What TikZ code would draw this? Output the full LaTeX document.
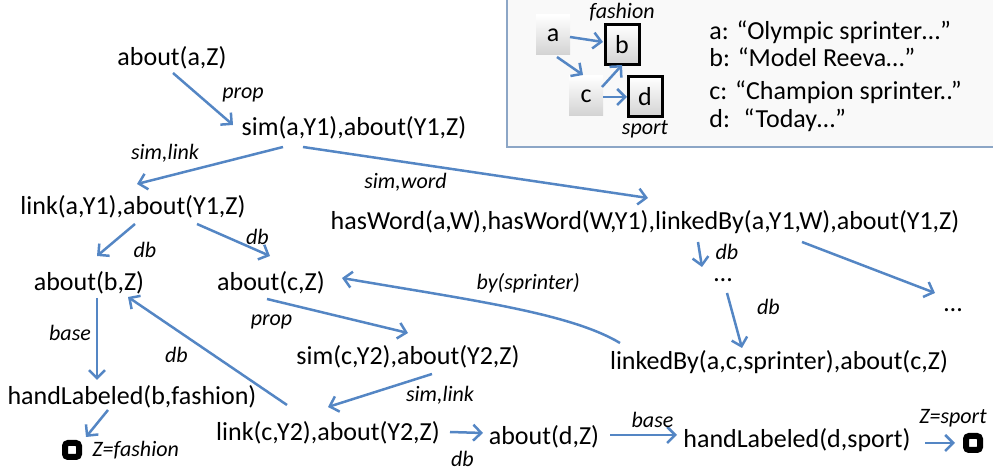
\documentclass[tikz,border=0pt]{standalone}
\usepackage{fontspec}
\setmainfont{Carlito}
\usetikzlibrary{arrows.meta,calc}

\definecolor{arrblue}{RGB}{84,134,196}
\definecolor{boxline}{RGB}{140,166,198}
\newcommand\goalfont{\fontsize{13}{15}\selectfont}
\newcommand\lblfont{\fontsize{11}{13}\selectfont\itshape}

\begin{document}
\begin{tikzpicture}[
        x=0.5pt, y=-0.5pt,
        goal/.style={
            inner sep=1pt,
            font=\goalfont
        },
        lbl/.style={
            inner sep=0pt,
            font=\lblfont
        },
        arr/.style={
            draw=arrblue,
            line width=1.25pt,
            -{Straight Barb[length=4pt,width=8pt]}
        },
        res/.style={
            draw=black,
            line width=3pt,
            rounded corners=1.5pt,
            fill=white,
            inner sep=0pt,
            minimum size=7pt
        },
        doc/.style={
            inner sep=0pt,
            minimum width=17pt,
            minimum height=20pt,
            top color=white,
            bottom color=gray!35,
            font=\goalfont
        },
        labdoc/.style={
            doc,
            draw=black,
            line width=1.5pt
        }
    ]
    \useasboundingbox (0,0) rectangle (993,469);

    % legend box
    \draw[boxline, line width=0.8pt, fill=gray!5] (507,-10) rectangle (1003,147);
    \node[doc] (a) at (553,35) {a};
    \node[labdoc, label={[lbl, inner sep=1pt]above:fashion}] (b) at (622,45) {b};
    \node[doc] (c) at (586,96) {c};
    \node[labdoc, label={[lbl, inner sep=1pt]below:sport}] (d) at (645,97) {d};
    \path ($(a)+(17,2)$) edge[arr] ($(b)+(-19,-3)$)
          ($(a)+(4,22)$) edge[arr] ($(c)+(-3,-21)$)
          ($(c)+(16,-9)$) edge[arr] ($(b)+(0,20)$)
          ($(c)+(17,1)$) edge[arr] ($(d)+(-18,0)$);
    \node[goal, anchor=base west] (txtA) at (707,40) {a: “Olympic sprinter…”};
    \node[goal, anchor=base west] (txtB) at (707,67) {b: “Model Reeva…”};
    \node[goal, anchor=base west] (txtC) at (707,100) {c: “Champion sprinter..”};
    \node[goal, anchor=base west] (txtD) at (707,128) {d: \ “Today…”};

    % proof tree
    \node[goal] (aboutA) at (172,58) {about(a,Z)};
    \node[goal] (simA) at (354,128) {sim(a,Y1),about(Y1,Z)};
    \node[goal] (linkA) at (133,207) {link(a,Y1),about(Y1,Z)};
    \node[goal] (hasWord) at (645,222) {hasWord(a,W),hasWord(W,Y1),linkedBy(a,Y1,W),about(Y1,Z)};
    \node[goal] (aboutB) at (89,283) {about(b,Z)};
    \node[goal] (aboutC) at (271,283) {about(c,Z)};
    \node[goal] (simC) at (408,357) {sim(c,Y2),about(Y2,Z)};
    \node[goal] (handB) at (132,397) {handLabeled(b,fashion)};
    \node[goal] (linkC) at (328,433) {link(c,Y2),about(Y2,Z)};
    \node[goal] (aboutD) at (544,437) {about(d,Z)};
    \node[goal] (handD) at (797,440) {handLabeled(d,sport)};
    \node[goal] (dotsA) at (723,280) {…};
    \node[goal] (dotsB) at (953,310) {…};
    \node[goal] (linkedBy) at (779,362) {linkedBy(a,c,sprinter),about(c,Z)};
    \node[res, label={[lbl, inner sep=0pt, xshift=5pt]right:Z=fashion}] (resB) at (72,450) {};
    \node[res, label={[lbl, inner sep=0pt, xshift=-10pt, yshift=3pt]above:Z=sport}] (resD) at (973,443) {};

    \path ($(aboutA)+(1,15)$) edge[arr] node[lbl, shift={(40,-4)}] {prop} ($(simA)+(-121,-3)$);
    \path ($(simA)+(-71,19)$) edge[arr] node[lbl, shift={(-45,-12)}] {sim,link} ($(linkA)+(4,-23)$)
          ($(simA)+(-51,19)$) edge[arr] node[lbl, shift={(-70,10)}] {sim,word} ($(hasWord)+(3,-24)$);
    \path ($(linkA)+(2,17)$) edge[arr] node[lbl, shift={(29,10)}] {db} ($(aboutB)+(8,-27)$)
          ($(linkA)+(64,17)$) edge[arr] node[lbl, shift={(24,-3)}] {db} ($(aboutC)+(-1,-27)$);
    \path ($(aboutB)+(8,15)$) edge[arr] node[lbl, shift={(-27,-6)}] {base} ($(handB)+(-35,-17)$);
    \path ($(handB)+(-24,13)$) edge[arr] ($(resB)+(14,-13)$);
    \path ($(linkC)+(-41,-28)$) edge[arr] node[lbl, shift={(-31,4)}] {db} ($(aboutB)+(39,14)$);
    \path ($(aboutC)+(-4,16)$) edge[arr] node[lbl, shift={(-66,6)}] {prop} ($(simC)+(0,-24)$);
    \path ($(simC)+(24,17)$) edge[arr] node[lbl, shift={(60,5)}] {sim,link} ($(linkC)+(0,-26)$);
    \path ($(linkC)+(122,-1)$) edge[arr] node[lbl, shift={(-4,26)}] {db} ($(aboutD)+(-61,-4)$);
    \path ($(aboutD)+(66,-2)$) edge[arr] node[lbl, shift={(9,-15)}] {base} ($(handD)+(-120,-5)$);
    \path ($(handD)+(128,3)$) edge[arr] ($(resD)+(-18,0)$);
    \path ($(hasWord)+(53,20)$) edge[arr] node[lbl, shift={(27,-3)}] {db} ($(dotsA)+(-21,-13)$)
          ($(hasWord)+(157,20)$) edge[arr] ($(dotsB)+(-18,-17)$);
    \path ($(dotsA)+(4,13)$) edge[arr] node[lbl, shift={(34,-14)}] {db} ($(linkedBy)+(-37,-14)$);
    \draw[arr] ($(linkedBy)+(-159,-19)$) .. controls ($(linkedBy)+(-209,-49)$) and ($(aboutC)+(199,17)$) .. ($(aboutC)+(71,-5)$)
        node[lbl, pos=0.5, shift={(18,-24)}] {by(sprinter)};
\end{tikzpicture}
\end{document}
